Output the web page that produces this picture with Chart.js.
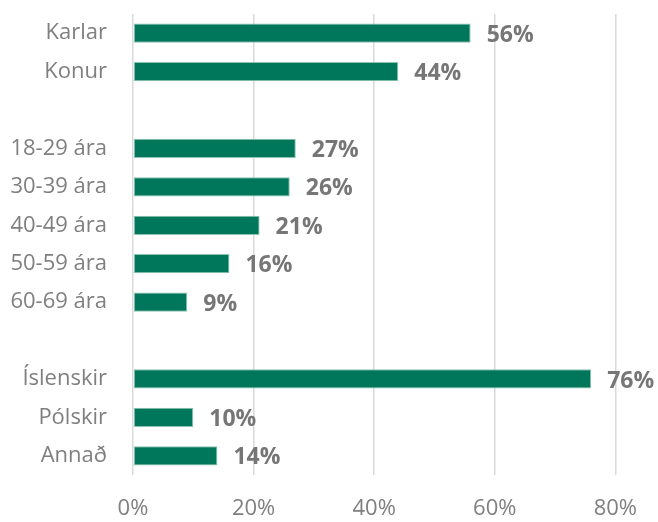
<!DOCTYPE html>
<html>
<head>
<meta charset="utf-8">
<script src="https://cdn.jsdelivr.net/npm/chart.js@4"></script>
<style>
  html, body { margin: 0; padding: 0; background: #fff; }
  #wrap { width: 658px; height: 522px; }
</style>
</head>
<body>
<div id="wrap"><canvas id="bar-chart"></canvas></div>
<script>
// gaps between groups are empty categories
const categories = ["Karlar", "Konur", "", "18-29 ára", "30-39 ára", "40-49 ára", "50-59 ára", "60-69 ára", "", "Íslenskir", "Pólskir", "Annað"];
const values = [56, 44, null, 27, 26, 21, 16, 9, null, 76, 10, 14];
const tickValues = [0, 20, 40, 60, 80];

const barColor = "#00765a";
const greyText = "#7f7f7f";

// draws the bold value labels at the end of each bar
const valueLabels = {
  id: "valueLabels",
  afterDatasetsDraw(chart) {
    const ctx = chart.ctx;
    const meta = chart.getDatasetMeta(0);
    ctx.save();
    ctx.font = "bold 23px 'Open Sans'";
    ctx.fillStyle = "#767676";
    ctx.textAlign = "left";
    ctx.textBaseline = "middle";
    meta.data.forEach((bar, i) => {
      if (values[i] == null) return;
      ctx.fillText(values[i] + "%", bar.x + 16, bar.y + 2);
    });
    ctx.restore();
  },
};

const barChart = document.querySelector("#bar-chart").getContext("2d");
new Chart(barChart, {
  type: "bar",
  data: {
    labels: categories,
    datasets: [
      {
        data: values,
        backgroundColor: barColor,
        borderColor: "#8cc5b2",
        borderWidth: 1,
        borderSkipped: false,
        categoryPercentage: 1,
        barPercentage: 0.5,
      },
    ],
  },
  options: {
    indexAxis: "y",
    responsive: true,
    maintainAspectRatio: false,
    animation: false,
    layout: { padding: { top: 14, right: 38, bottom: 0, left: 0 } },
    plugins: {
      legend: { display: false },
      tooltip: { enabled: false },
    },
    scales: {
      x: {
        min: 0,
        max: 80,
        afterBuildTicks: (scale) => {
          scale.ticks = tickValues.map((v) => ({ value: v }));
        },
        afterFit: (scale) => {
          scale.height = 47;
        },
        border: { display: false },
        grid: { color: "#d9d9d9", lineWidth: 1.5, drawTicks: false },
        ticks: {
          padding: 21,
          color: greyText,
          font: { family: "'Open Sans'", size: 22 },
          callback: (v) => v + "%",
        },
      },
      y: {
        afterFit: (scale) => {
          scale.width = 133;
          scale.paddingTop = 0;
          scale.paddingBottom = 0;
        },
        border: { display: false },
        grid: { display: false, drawTicks: false },
        ticks: {
          padding: 26,
          color: greyText,
          font: { family: "'Open Sans'", size: 22 },
          autoSkip: false,
        },
      },
    },
  },
  plugins: [valueLabels],
});
</script>
</body>
</html>
